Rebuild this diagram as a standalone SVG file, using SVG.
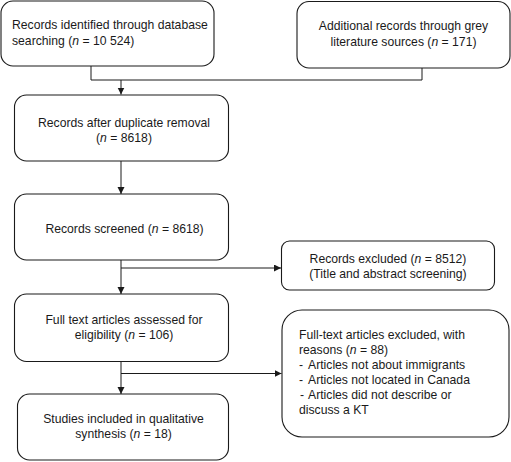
<svg xmlns="http://www.w3.org/2000/svg" width="511" height="462" viewBox="0 0 511 462">
<defs>
<style>
.box{fill:#fff;stroke:#1a1a1a;stroke-width:1.1}
.t{font-family:"Liberation Sans",Arial,sans-serif;font-size:12.2px;fill:#1a1a1a}
.c{text-anchor:middle}
.i{font-style:italic}
.ln{fill:none;stroke:#1a1a1a;stroke-width:1}
</style>
<marker id="ah" markerWidth="8" markerHeight="8" refX="7" refY="3.5" orient="auto" markerUnits="userSpaceOnUse">
<path d="M0,0 L7,3.5 L0,7 Z" fill="#1a1a1a"/>
</marker>
</defs>
<rect width="511" height="462" fill="#fff"/>
<g id="connectors">
<path class="ln" d="M91,66 V80 H422 V68"/>
<path class="ln" d="M121,80 V94.5" marker-end="url(#ah)"/>
<path class="ln" d="M121,161 V194" marker-end="url(#ah)"/>
<path class="ln" d="M121,260 V294" marker-end="url(#ah)"/>
<path class="ln" d="M121,268 H281" marker-end="url(#ah)"/>
<path class="ln" d="M121,361.5 V394" marker-end="url(#ah)"/>
<path class="ln" d="M121,373.5 H281.5" marker-end="url(#ah)"/>
</g>
<g id="n1">
<rect class="box" x="1" y="1" width="213" height="65" rx="12"/>
<text class="t" x="12" y="29">Records identified through database</text>
<text class="t" x="12" y="44.5">searching (<tspan class="i">n</tspan> = 10 524)</text>
</g>
<g id="n2">
<rect class="box" x="297" y="1.5" width="213" height="66.5" rx="12"/>
<text class="t c" x="403.5" y="30">Additional records through grey</text>
<text class="t c" x="403.5" y="45.5">literature sources (<tspan class="i">n</tspan> = 171)</text>
</g>
<g id="n3">
<rect class="box" x="14.5" y="95" width="214" height="66" rx="12"/>
<text class="t c" x="124" y="126.5">Records after duplicate removal</text>
<text class="t c" x="124" y="141.5">(<tspan class="i">n</tspan> = 8618)</text>
</g>
<g id="n4">
<rect class="box" x="14.5" y="194" width="214" height="66" rx="12"/>
<text class="t c" x="124.5" y="233">Records screened (<tspan class="i">n</tspan> = 8618)</text>
</g>
<g id="n5">
<rect class="box" x="281.5" y="241" width="213" height="49" rx="8"/>
<text class="t c" x="388" y="262.5">Records excluded (<tspan class="i">n</tspan> = 8512)</text>
<text class="t c" x="388" y="277.5">(Title and abstract screening)</text>
</g>
<g id="n6">
<rect class="box" x="14.5" y="294" width="214" height="67.5" rx="12"/>
<text class="t c" x="124" y="324">Full text articles assessed for</text>
<text class="t c" x="124" y="339">eligibility (<tspan class="i">n</tspan> = 106)</text>
</g>
<g id="n7">
<rect class="box" x="17.5" y="394" width="211" height="66" rx="12"/>
<text class="t c" x="123.5" y="423">Studies included in qualitative</text>
<text class="t c" x="123.5" y="438">synthesis (<tspan class="i">n</tspan> = 18)</text>
</g>
<g id="n8">
<rect class="box" x="282" y="310" width="227" height="127" rx="20"/>
<text class="t" x="299" y="339">Full-text articles excluded, with</text>
<text class="t" x="299" y="354">reasons (<tspan class="i">n</tspan> = 88)</text>
<text class="t" x="299" y="369">-<tspan x="308">Articles not about immigrants</tspan></text>
<text class="t" x="299" y="384">-<tspan x="308">Articles not located in Canada</tspan></text>
<text class="t" x="300" y="399">-<tspan x="308">Articles did not describe or</tspan></text>
<text class="t" x="299" y="414">discuss a KT</text>
</g>
</svg>
